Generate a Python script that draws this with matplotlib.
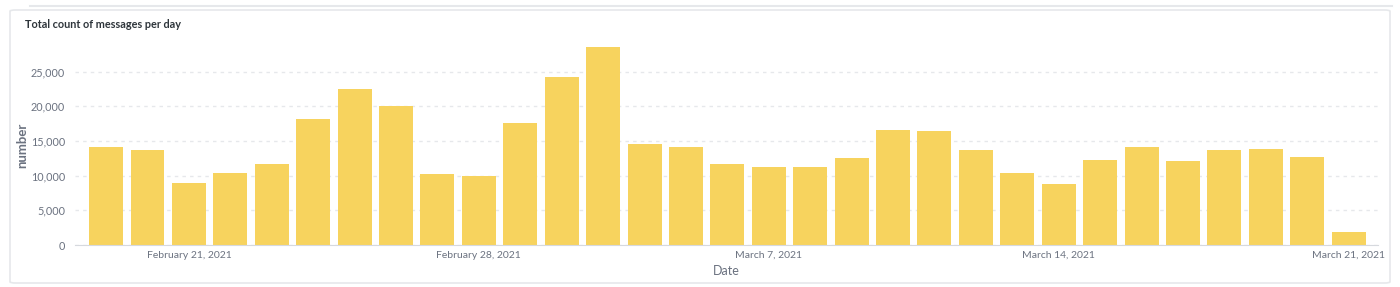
import matplotlib.pyplot as plt
import matplotlib.dates as mdates
from matplotlib.patches import FancyBboxPatch
import pandas as pd

# daily message counts, Feb 19 - Mar 21 2021
days = pd.date_range("2021-02-19", "2021-03-21", freq="D")
counts = [14200, 13750, 8950, 10400, 11700, 18200, 22500, 20000, 10300, 9900,
          17600, 24300, 28550, 14600, 14100, 11700, 11300, 11300, 12550, 16600,
          16400, 13650, 10400, 8800, 12300, 14100, 12150, 13650, 13900, 12700, 1900]
tick_days = pd.to_datetime(["2021-02-21", "2021-02-28", "2021-03-07",
                            "2021-03-14", "2021-03-21"])
y_ticks = [0, 5000, 10000, 15000, 20000, 25000]

bar_color = "#F7D35E"
text_color = "#6B7280"

plt.rcParams['font.family'] = ['Lato', 'DejaVu Sans']

fig = plt.figure(figsize=(14, 2.87), dpi=100)

# card outlines (behind the chart)
card = FancyBboxPatch((10 / 1400, 4 / 287), 1380 / 1400, 273 / 287,
                      boxstyle="round,pad=0,rounding_size=0.004",
                      transform=fig.transFigure, facecolor="none",
                      edgecolor="#E6E8EB", linewidth=1.2, zorder=-10)
fig.patches.append(card)
fig.add_artist(plt.Line2D([30 / 1400, 1392 / 1400], [281 / 287, 281 / 287],
                          transform=fig.transFigure, color="#E6E8EB",
                          linewidth=1.5, zorder=-10))

ax = fig.add_axes([75 / 1400, 1 - 245 / 287, 1303 / 1400, 208 / 287])
ax.patch.set_alpha(0)
ax.bar(days, counts, width=0.82, color=bar_color, zorder=2)

ax.set_ylim(0, 30000)
ax.set_xlim(days[0] - pd.Timedelta(hours=18), days[-1] + pd.Timedelta(hours=17))
ax.set_yticks(y_ticks)
ax.set_yticklabels([f"{v:,}" for v in y_ticks])
ax.set_xticks(tick_days)
ax.xaxis.set_major_formatter(mdates.DateFormatter("%B %-d, %Y"))

ax.grid(axis="y", color="#E6E8EB", linestyle=(0, (2.5, 3)), linewidth=1, zorder=0)
for side in ["top", "right", "left"]:
    ax.spines[side].set_visible(False)
ax.spines["bottom"].set_color("#D6D9DE")
ax.tick_params(axis="both", length=0, colors=text_color)
ax.tick_params(axis="x", pad=4, labelsize=7.5)
ax.tick_params(axis="y", pad=7, labelsize=7.8)

ax.set_xlabel("Date", color=text_color, fontsize=9, labelpad=4)
ax.set_ylabel("number", color=text_color, fontsize=9.5, fontweight="bold")
ax.yaxis.set_label_coords(-0.036, 0.48)

fig.text(25 / 1400, 1 - 25 / 287, "Total count of messages per day",
         fontsize=7.8, fontweight="bold", color="#2E353B", va="center")

fig.savefig("out.png", dpi=100)
